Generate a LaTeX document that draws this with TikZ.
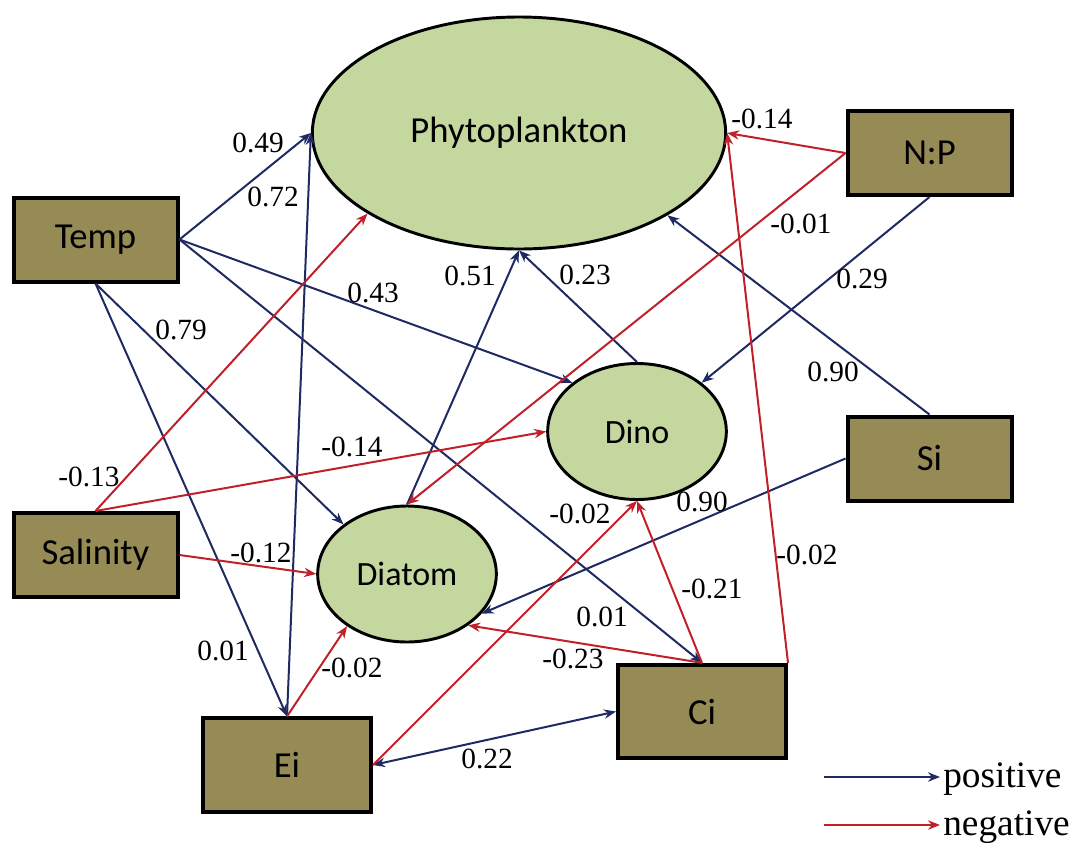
\documentclass[tikz,border=0pt]{standalone}
\usepackage{fontspec}
\setmainfont{Liberation Serif}
\newfontfamily\calib{Carlito}
\usepackage{tikz}
\usetikzlibrary{arrows.meta, shapes.geometric}
\definecolor{posblue}{RGB}{31,42,99}
\definecolor{negred}{RGB}{192,32,42}
\definecolor{boxolive}{RGB}{150,138,85}
\definecolor{ellgreen}{RGB}{196,215,159}

\begin{document}
\begin{tikzpicture}[
    x=0.75pt, y=-0.75pt,
    var/.style={draw=black, line width=3pt, fill=boxolive, minimum width=123pt, minimum height=63pt, inner sep=0pt, font=\calib\fontsize{27.5}{30}\selectfont},
    bigvar/.style={var, minimum width=126pt, minimum height=70pt},
    latent/.style={ellipse, draw=black, line width=2.2pt, fill=ellgreen, inner sep=0pt, minimum width=134pt, minimum height=102pt, font=\calib\fontsize{25.5}{28}\selectfont},
    posarrow/.style={-{Stealth[length=9pt, width=7pt]}, line width=1.5pt, posblue},
    negarrow/.style={-{Stealth[length=9pt, width=7pt]}, line width=1.5pt, negred},
    coef/.style={font=\fontsize{22}{24}\selectfont, inner sep=0pt},
    legtext/.style={font=\fontsize{28}{30}\selectfont, inner sep=0pt, anchor=base west}
]
\useasboundingbox (0,0) rectangle (1073,843);

% response variables
\node[latent, minimum width=310pt, minimum height=174pt, font=\calib\fontsize{27.5}{30}\selectfont] (phyto) at (519,133) {Phytoplankton};
\node[latent] (dino) at (637,431.5) {Dino};
\node[latent] (diatom) at (407,574) {Diatom};

% drivers
\node[var] (temp) at (95.5,239.5) {Temp};
\node[var] (sal) at (95.5,555) {Salinity};
\node[var] (np) at (929.5,153) {N:P};
\node[var] (si) at (929.5,458.5) {Si};
\node[bigvar] (ei) at (287,765) {Ei};
\node[bigvar] (ci) at (702,711.5) {Ci};

% positive paths
\draw[posarrow] (temp.east) -- (phyto.west);
\draw[posarrow] (ei.north) -- (phyto.west);
\draw[posarrow] (temp.east) -- (dino.143);
\draw[posarrow] (temp.south) -- (diatom.142);
\draw[posarrow] (temp.south) -- (ei.north);
\draw[posarrow] (temp.east) -- (ci.north);
\draw[posarrow] (diatom.north) -- (phyto.south);
\draw[posarrow] (dino.north) -- (phyto.south);
\draw[posarrow] (np.south) -- (dino.37);
\draw[posarrow] (si.north) -- (phyto.331);
\draw[posarrow] (si.west) -- (diatom.332);
\draw[posarrow, {Stealth[length=9pt, width=7pt]}-{Stealth[length=9pt, width=7pt]}] (ei.east) -- (ci.west);

% negative paths
\draw[negarrow] (np.west) -- (phyto.east);
\draw[negarrow] (np.west) -- (diatom.north);
\draw[negarrow] (ci.north east) -- (phyto.east);
\draw[negarrow] (sal.north) -- (phyto.208);
\draw[negarrow] (sal.north) -- (dino.west);
\draw[negarrow] (sal.east) -- (diatom.west);
\draw[negarrow] (ei.north) -- (diatom.221);
\draw[negarrow] (ei.east) -- (dino.south);
\draw[negarrow] (ci.north) -- (dino.south);
\draw[negarrow] (ci.north) -- (diatom.320);

% path coefficients
\node[coef] (k1) at (258,143) {0.49};
\node[coef] (k2) at (273,197) {0.72};
\node[coef] (k3) at (373,293) {0.43};
\node[coef] (k4) at (181,330) {0.79};
\node[coef] (k5) at (470,276) {0.51};
\node[coef] (k6) at (585,275) {0.23};
\node[coef] (k7) at (762,119) {-0.14};
\node[coef] (k8) at (801,224) {-0.01};
\node[coef] (k9) at (862,279) {0.29};
\node[coef] (k10) at (833,372) {0.90};
\node[coef] (k11) at (89,477) {-0.13};
\node[coef] (k12) at (352,447) {-0.14};
\node[coef] (k13) at (261,553) {-0.12};
\node[coef] (k14) at (223,651) {0.01};
\node[coef] (k15) at (352,668) {-0.02};
\node[coef] (k16) at (487,759) {0.22};
\node[coef] (k17) at (580,514) {-0.02};
\node[coef] (k18) at (702,502) {0.90};
\node[coef] (k19) at (807,555) {-0.02};
\node[coef] (k20) at (712,589) {-0.21};
\node[coef] (k21) at (602,617) {0.01};
\node[coef] (k22) at (573,659) {-0.23};

% legend
\coordinate (lp1) at (824,777);
\coordinate (lp2) at (940,777);
\coordinate (ln1) at (824,825);
\coordinate (ln2) at (940,825);
\draw[posarrow, line width=2pt] (lp1) -- (lp2);
\draw[negarrow, line width=2pt] (ln1) -- (ln2);
\node[legtext] (lpos) at (943,787) {positive};
\node[legtext] (lneg) at (943,835) {negative};

\end{tikzpicture}
\end{document}
